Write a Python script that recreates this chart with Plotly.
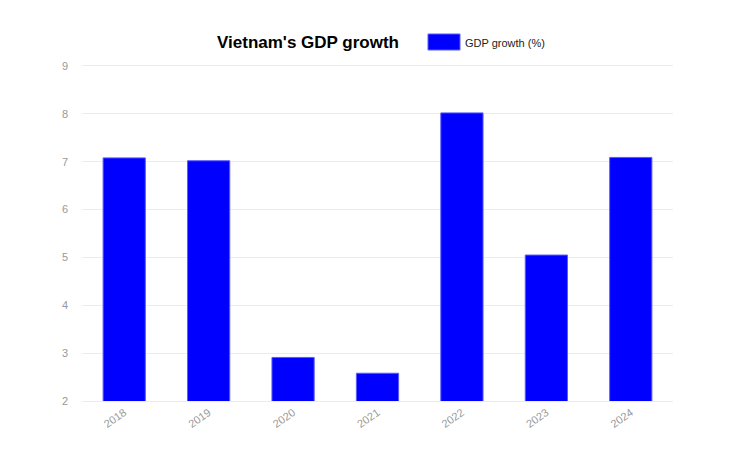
import plotly.graph_objects as go

years = ["2018", "2019", "2020", "2021", "2022", "2023", "2024"]
gdp_growth = [7.08, 7.02, 2.91, 2.58, 8.02, 5.05, 7.09]
y_ticks = [2, 3, 4, 5, 6, 7, 8, 9]
series_name = "GDP growth (%)"

W, H = 732, 454
L, R, T, B = 74, 67, 58, 61
pw, ph = W - L - R, H - T - B

def px_x(x):
    return (x - L) / pw

def px_y(y):
    return (H - B - y) / ph

fig = go.Figure()
fig.add_trace(go.Bar(
    x=years, y=gdp_growth, name=series_name,
    marker=dict(color="#0000ff", line=dict(color="#5a5aff", width=1)),
    width=0.5, showlegend=False,
))

fig.update_layout(
    width=W, height=H,
    margin=dict(l=L, r=R, t=T, b=B),
    paper_bgcolor="white", plot_bgcolor="white",
    font=dict(family="Liberation Sans, Arial, sans-serif", size=11, color="#888"),
    title=dict(text="<b>Vietnam's GDP growth</b>", x=300/W, xanchor="center",
               y=1 - 34/H, yanchor="middle",
               font=dict(size=17, color="#000", family="Liberation Sans, Arial, sans-serif")),
    showlegend=False,
)
# manual legend
fig.add_shape(type="rect", xref="paper", yref="paper",
              x0=px_x(420), x1=px_x(452), y0=px_y(42), y1=px_y(26),
              fillcolor="#0000ff", line=dict(color="#5a5aff", width=1))
fig.add_annotation(xref="paper", yref="paper", x=px_x(455), y=px_y(35),
                   xanchor="left", yanchor="middle", showarrow=False,
                   text=series_name, font=dict(size=11, color="#222"))

fig.update_xaxes(type="category", tickangle=-35, showgrid=False, showline=True,
                 mirror=True, linecolor="#ececec", linewidth=1,
                 tickfont=dict(color="#999", size=11), ticks="")
fig.update_yaxes(range=[2, 9], tickvals=y_ticks, gridcolor="#ececec", gridwidth=1,
                 zeroline=False, showline=False, tickfont=dict(color="#999", size=11),
                 ticklabelstandoff=13)

fig.write_html("out.html")
